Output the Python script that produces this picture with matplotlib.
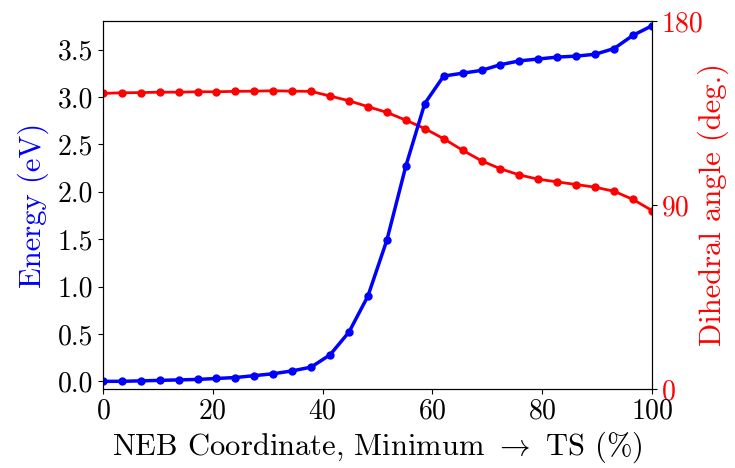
import matplotlib
matplotlib.use("Agg")
import matplotlib.pyplot as plt
import numpy as np

plt.rcParams['font.family'] = 'serif'
plt.rcParams['font.serif'] = ['cmr10']
plt.rcParams['mathtext.fontset'] = 'cm'
plt.rcParams['axes.unicode_minus'] = False
plt.rcParams['axes.formatter.use_mathtext'] = True

# NEB images, evenly spaced from minimum (0 %) to TS (100 %)
neb_coord = np.linspace(0, 100, 30)

energy = [0.00, 0.00, 0.005, 0.01, 0.015, 0.02, 0.03, 0.04, 0.06, 0.08,
          0.11, 0.15, 0.28, 0.52, 0.90, 1.49, 2.27, 2.93, 3.22, 3.25,
          3.28, 3.34, 3.38, 3.40, 3.42, 3.43, 3.45, 3.51, 3.65, 3.75]

dihedral = [144.6, 144.9, 145.0, 145.2, 145.2, 145.4, 145.4, 145.6, 145.7, 145.9,
            145.7, 145.6, 143.3, 141.0, 138.1, 135.3, 131.5, 127.4, 122.4, 116.8,
            111.6, 107.7, 104.7, 102.6, 101.3, 100.0, 98.7, 96.7, 92.7, 87.3]

energy_ticks = [0.0, 0.5, 1.0, 1.5, 2.0, 2.5, 3.0, 3.5]
angle_ticks = [0, 90, 180]

fig = plt.figure(figsize=(7.35, 4.68), dpi=100)
ax1 = fig.add_axes([0.140, 0.169, 0.747, 0.786])
ax2 = ax1.twinx()

ax2.plot(neb_coord, dihedral, color="red", lw=2, marker="o", ms=5)
ax1.plot(neb_coord, energy, color="blue", lw=2.5, marker="o", ms=5)

# keep the energy curve on top of the angle curve
ax1.set_zorder(ax2.get_zorder() + 1)
ax1.patch.set_visible(False)

ax1.set_xlim(0, 100)
ax1.set_ylim(-0.08, 3.8)
ax2.set_ylim(0, 180)

ax1.set_yticks(energy_ticks)
ax1.set_yticklabels([f"{v:.1f}" for v in energy_ticks])
ax2.set_yticks(angle_ticks)
ax2.set_yticklabels([str(v) for v in angle_ticks])

ax1.tick_params(labelsize=20)
ax2.tick_params(labelsize=20, labelcolor="red")

ax1.set_xlabel(r"NEB Coordinate, Minimum $\rightarrow$ TS (%)", fontsize=22, labelpad=3)
ax1.set_ylabel("Energy (eV)", color="blue", fontsize=22, labelpad=6)
ax2.set_ylabel("Dihedral angle (deg.)", color="red", fontsize=22, labelpad=-4)

fig.savefig("out.png", dpi=100)
